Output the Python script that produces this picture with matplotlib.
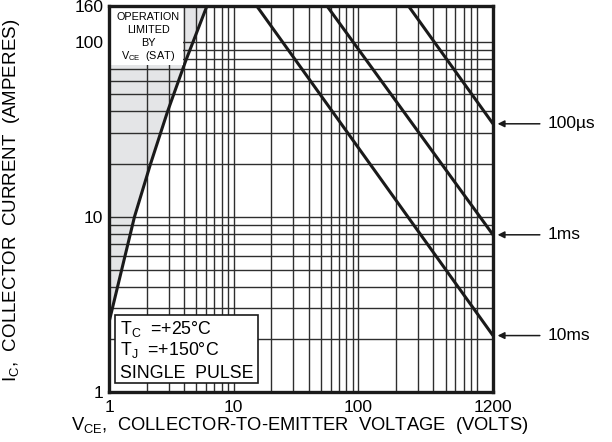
import matplotlib
matplotlib.use("Agg")
import matplotlib.pyplot as plt
from matplotlib.ticker import LogLocator, NullFormatter, FixedLocator, FixedFormatter
from matplotlib.patches import Rectangle

plt.rcParams['font.family'] = ['Liberation Sans', 'DejaVu Sans']
plt.rcParams['mathtext.default'] = 'regular'

# ---- data ----
vsat_v = [1.0, 1.6, 2.15, 2.95, 4.1, 6.1]
vsat_i = [2.5, 10.0, 20.0, 40.0, 77.0, 160.0]

pulse_names = ['100µs', '1ms', '10ms']
pulse_v = [[252, 1200], [56, 1200], [15.3, 1200]]
pulse_i = [[160, 34], [160, 7.9], [160, 2.1]]

xticks = [1, 10, 100, 1200]
xticklabels = ['1', '10', '100', '1200']
yticks = [1, 10, 100, 160]
yticklabels = ['1', '10', '100', '160']

fig = plt.figure(figsize=(6.12, 4.42), dpi=100)
ax = fig.add_axes([109/612, 1-392/442, 384/612, 386/442])
ax.set_xscale('log')
ax.set_yscale('log')
ax.set_xlim(1, 1200)
ax.set_ylim(1, 160)

# shaded region limited by VCE(sat)
ax.fill_betweenx(vsat_i, 1, vsat_v, color='#e4e5e7', lw=0, zorder=0.2)
ax.plot(vsat_v, vsat_i, color='#1a1a1a', lw=2.2, zorder=3, solid_capstyle='butt')

for v, i in zip(pulse_v, pulse_i):
    ax.plot(v, i, color='#1a1a1a', lw=2.2, zorder=3, solid_capstyle='butt')

# grid
for axis in (ax.xaxis, ax.yaxis):
    axis.set_minor_locator(LogLocator(base=10, subs=range(2, 10), numticks=50))
    axis.set_minor_formatter(NullFormatter())
ax.xaxis.set_major_locator(FixedLocator(xticks))
ax.xaxis.set_major_formatter(FixedFormatter(xticklabels))
ax.yaxis.set_major_locator(FixedLocator(yticks))
ax.yaxis.set_major_formatter(FixedFormatter(yticklabels))
ax.set_axisbelow(True)
ax.grid(which='both', color='#2e2e2e', lw=1.0)
ax.tick_params(which='both', length=0)
ax.tick_params(axis='x', labelsize=12.5, pad=6)
ax.tick_params(axis='y', labelsize=12.5, pad=4)
for sp in ax.spines.values():
    sp.set_linewidth(2.4)
    sp.set_color('#1a1a1a')
    sp.set_zorder(6)

# arrows + labels for pulse lines
for name, i in zip(pulse_names, pulse_i):
    y = i[-1]
    ax.annotate('', xy=(1.012, y), xycoords=('axes fraction', 'data'),
                xytext=(1.122, y), textcoords=('axes fraction', 'data'),
                arrowprops=dict(arrowstyle='-|>', color='#1a1a1a', lw=1.1,
                                mutation_scale=10, shrinkA=0, shrinkB=0),
                annotation_clip=False)
    ax.text(1.143, y, name, transform=ax.get_yaxis_transform(),
            ha='left', va='center', fontsize=12.5, clip_on=False)

# upper-left box
ax.add_patch(Rectangle((0.004, 0.847), 0.19, 0.153, transform=ax.transAxes,
                       facecolor='white', edgecolor='none', zorder=4))
for txt, yy in zip(['OPERATION', 'LIMITED', 'BY', 'V$_{CE}$  (SAT)'],
                   [0.9715, 0.938, 0.904, 0.870]):
    ax.text(0.1016, yy, txt, transform=ax.transAxes, ha='center', va='center',
            fontsize=7.8, zorder=5)

# lower-left box
ax.add_patch(Rectangle((0.0156, 0.0233), 0.372, 0.176, transform=ax.transAxes,
                       facecolor='white', edgecolor='#1a1a1a', lw=1.2, zorder=4))
for txt, yy in zip(['T$_{C}$  =+25°C', 'T$_{J}$  =+150°C', 'SINGLE  PULSE'],
                   [(392-329)/386, (392-350)/386, (392-373)/386]):
    ax.text(0.028, yy, txt, transform=ax.transAxes, ha='left', va='center',
            fontsize=12.8, zorder=5)

fig.text(12/612, 1-200/442, 'I$_{C}$,  COLLECTOR  CURRENT  (AMPERES)', rotation=90,
         ha='center', va='center', fontsize=13.5)
fig.text(300/612, 1-425/442, 'V$_{CE}$,  COLLECTOR-TO-EMITTER  VOLTAGE  (VOLTS)',
         ha='center', va='center', fontsize=13.2)

fig.savefig('out.png', dpi=100)
